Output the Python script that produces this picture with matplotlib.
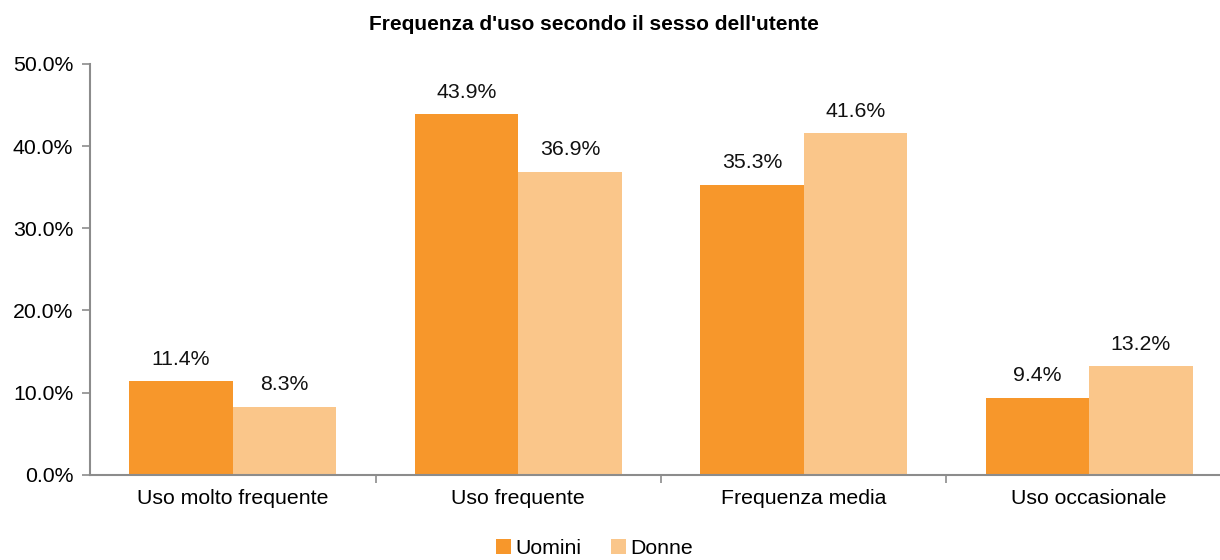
import numpy as np
import matplotlib.pyplot as plt
from matplotlib.ticker import FixedLocator

plt.rcParams['font.family'] = ['Liberation Sans', 'DejaVu Sans']

categories = ['Uso molto frequente', 'Uso frequente', 'Frequenza media', 'Uso occasionale']
uomini = [11.4, 43.9, 35.3, 9.4]
donne = [8.3, 36.9, 41.6, 13.2]
yticks = [0, 10, 20, 30, 40, 50]

c_uomini = '#F7972B'
c_donne = '#FAC68A'
axis_col = '#8C8C8C'

fig = plt.figure(figsize=(12.2, 5.6), dpi=100)
ax = fig.add_axes([0.0738, 0.152, 0.936, 0.734])

x = np.arange(len(categories))
w = 0.362
b1 = ax.bar(x - w / 2, uomini, w, color=c_uomini, label='Uomini')
b2 = ax.bar(x + w / 2, donne, w, color=c_donne, label='Donne')

for bars in (b1, b2):
    for r in bars:
        h = r.get_height()
        ax.text(r.get_x() + r.get_width() / 2, h + 1.5, f'{h:.1f}%',
                ha='center', va='bottom', fontsize=15.3, color='#111111')

ax.set_xlim(-0.5, len(categories) - 0.5)
ax.set_ylim(0, 50)
ax.set_yticks(yticks)
ax.set_yticklabels([f'{v:.1f}%' for v in yticks], fontsize=15.3)
ax.set_xticks(x)
ax.set_xticklabels(categories, fontsize=15.3)
ax.xaxis.set_minor_locator(FixedLocator([0.5, 1.5, 2.5]))
ax.tick_params(axis='x', which='major', length=0, pad=10)
ax.tick_params(axis='x', which='minor', length=6, color=axis_col, width=1.2)
ax.tick_params(axis='y', length=6, color=axis_col, width=1.2, pad=6)

for s in ('top', 'right'):
    ax.spines[s].set_visible(False)
for s in ('left', 'bottom'):
    ax.spines[s].set_color(axis_col)
    ax.spines[s].set_linewidth(1.5)

fig.text(0.487, 0.957, "Frequenza d'uso secondo il sesso dell'utente",
         ha='center', va='center', fontsize=15, fontweight='bold')

fig.legend(loc='lower center', bbox_to_anchor=(0.487, -0.03), ncol=2, frameon=False,
           fontsize=15.3, handlelength=0.7, handleheight=0.7, handletextpad=0.2,
           columnspacing=1.4)

fig.savefig('out.png', dpi=100)
